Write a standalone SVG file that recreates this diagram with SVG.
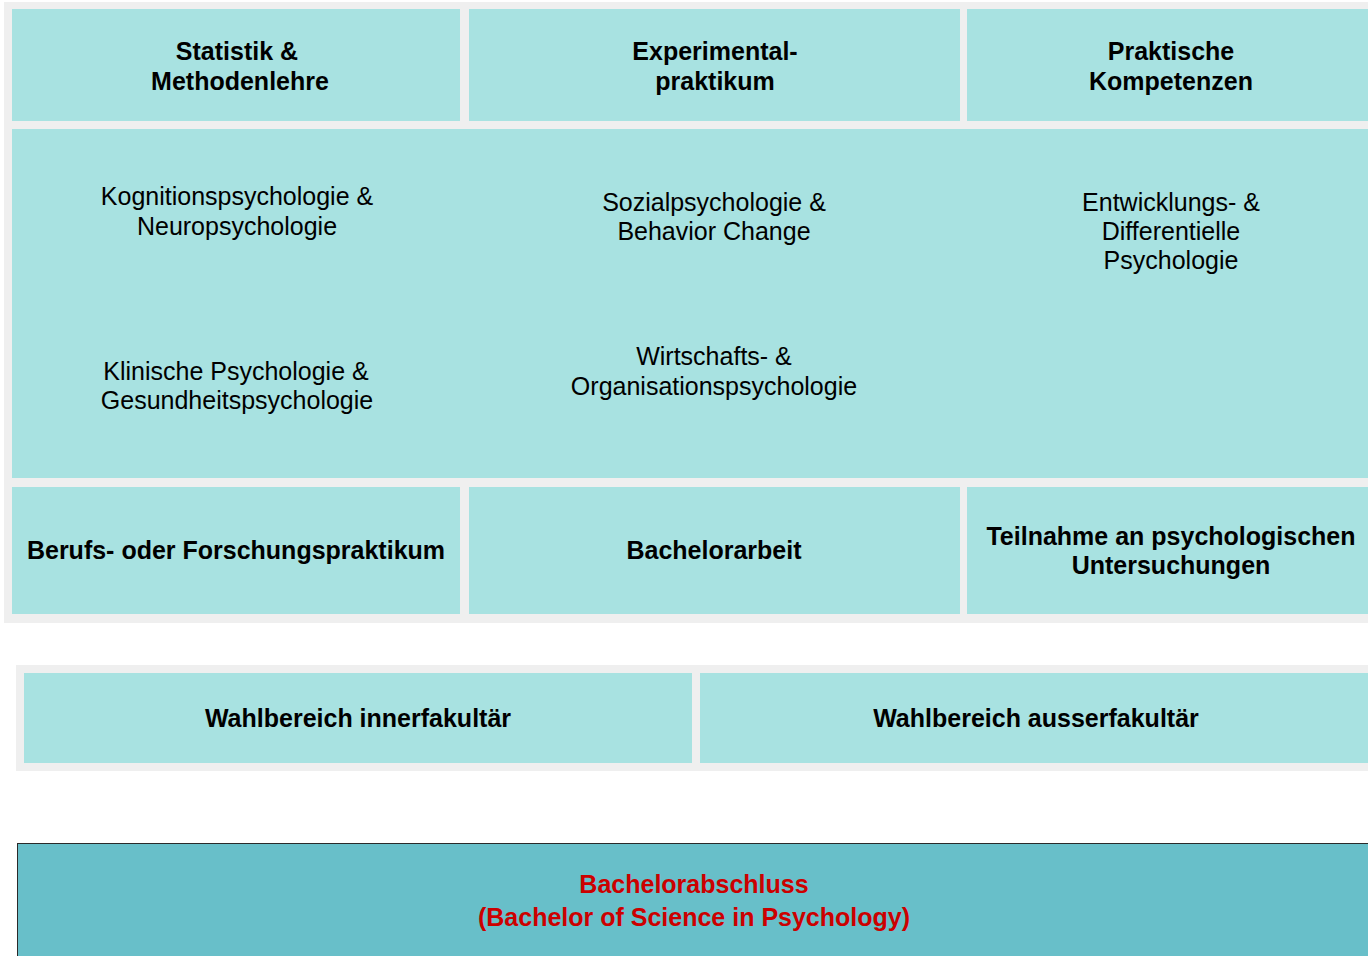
<svg xmlns="http://www.w3.org/2000/svg" width="1368" height="956" viewBox="0 0 1368 956">
<style>
.panel{fill:#efefef}
.cell{fill:#a8e2e1}
.b{font-family:"Liberation Sans",Arial,sans-serif;font-size:25px;font-weight:bold;fill:#000;text-anchor:middle}
.r{font-family:"Liberation Sans",Arial,sans-serif;font-size:25px;fill:#000;text-anchor:middle}
.red{font-family:"Liberation Sans",Arial,sans-serif;font-size:25px;font-weight:bold;fill:#cc0000;text-anchor:middle}
</style>
<rect width="1368" height="956" fill="#ffffff"/>
<rect class="panel" x="4" y="2" width="1372" height="621"/>
<g id="statistik">
<rect class="cell" x="12" y="9" width="448" height="112"/>
<text class="b" x="237" y="60">Statistik &amp;</text>
<text class="b" x="240" y="90">Methodenlehre</text>
</g>
<g id="experimental">
<rect class="cell" x="469" y="9" width="491" height="112"/>
<text class="b" x="715" y="60">Experimental-</text>
<text class="b" x="715" y="90">praktikum</text>
</g>
<g id="praktische">
<rect class="cell" x="967" y="9" width="409" height="112"/>
<text class="b" x="1171" y="60">Praktische</text>
<text class="b" x="1171" y="90">Kompetenzen</text>
</g>
<g id="faecher">
<rect class="cell" x="12" y="129" width="1364" height="349"/>
<text class="r" x="237" y="205">Kognitionspsychologie &amp;</text>
<text class="r" x="237" y="235">Neuropsychologie</text>
<text class="r" x="236" y="380">Klinische Psychologie &amp;</text>
<text class="r" x="237" y="409">Gesundheitspsychologie</text>
<text class="r" x="714" y="211">Sozialpsychologie &amp;</text>
<text class="r" x="714" y="240">Behavior Change</text>
<text class="r" x="714" y="365">Wirtschafts- &amp;</text>
<text class="r" x="714" y="395">Organisationspsychologie</text>
<text class="r" x="1171" y="211">Entwicklungs- &amp;</text>
<text class="r" x="1171" y="240">Differentielle</text>
<text class="r" x="1171" y="269">Psychologie</text>
</g>
<g id="berufspraktikum">
<rect class="cell" x="12" y="487" width="448" height="127"/>
<text class="b" x="236" y="559">Berufs- oder Forschungspraktikum</text>
</g>
<g id="bachelorarbeit">
<rect class="cell" x="469" y="487" width="491" height="127"/>
<text class="b" x="714" y="559">Bachelorarbeit</text>
</g>
<g id="teilnahme">
<rect class="cell" x="967" y="487" width="409" height="127"/>
<text class="b" x="1171" y="545">Teilnahme an psychologischen</text>
<text class="b" x="1171" y="574">Untersuchungen</text>
</g>
<rect class="panel" x="16" y="665" width="1360" height="106"/>
<g id="wahl-inner">
<rect class="cell" x="24" y="673" width="668" height="90"/>
<text class="b" x="358" y="727">Wahlbereich innerfakultär</text>
</g>
<g id="wahl-ausser">
<rect class="cell" x="700" y="673" width="676" height="90"/>
<text class="b" x="1036" y="727">Wahlbereich ausserfakultär</text>
</g>
<g id="abschluss">
<rect x="17.5" y="843.5" width="1360" height="120" fill="#68bfc9" stroke="#2a2a2a" stroke-width="1"/>
<text class="red" x="694" y="893">Bachelorabschluss</text>
<text class="red" x="694" y="926">(Bachelor of Science in Psychology)</text>
</g>
<g id="connectors"/>
</svg>
